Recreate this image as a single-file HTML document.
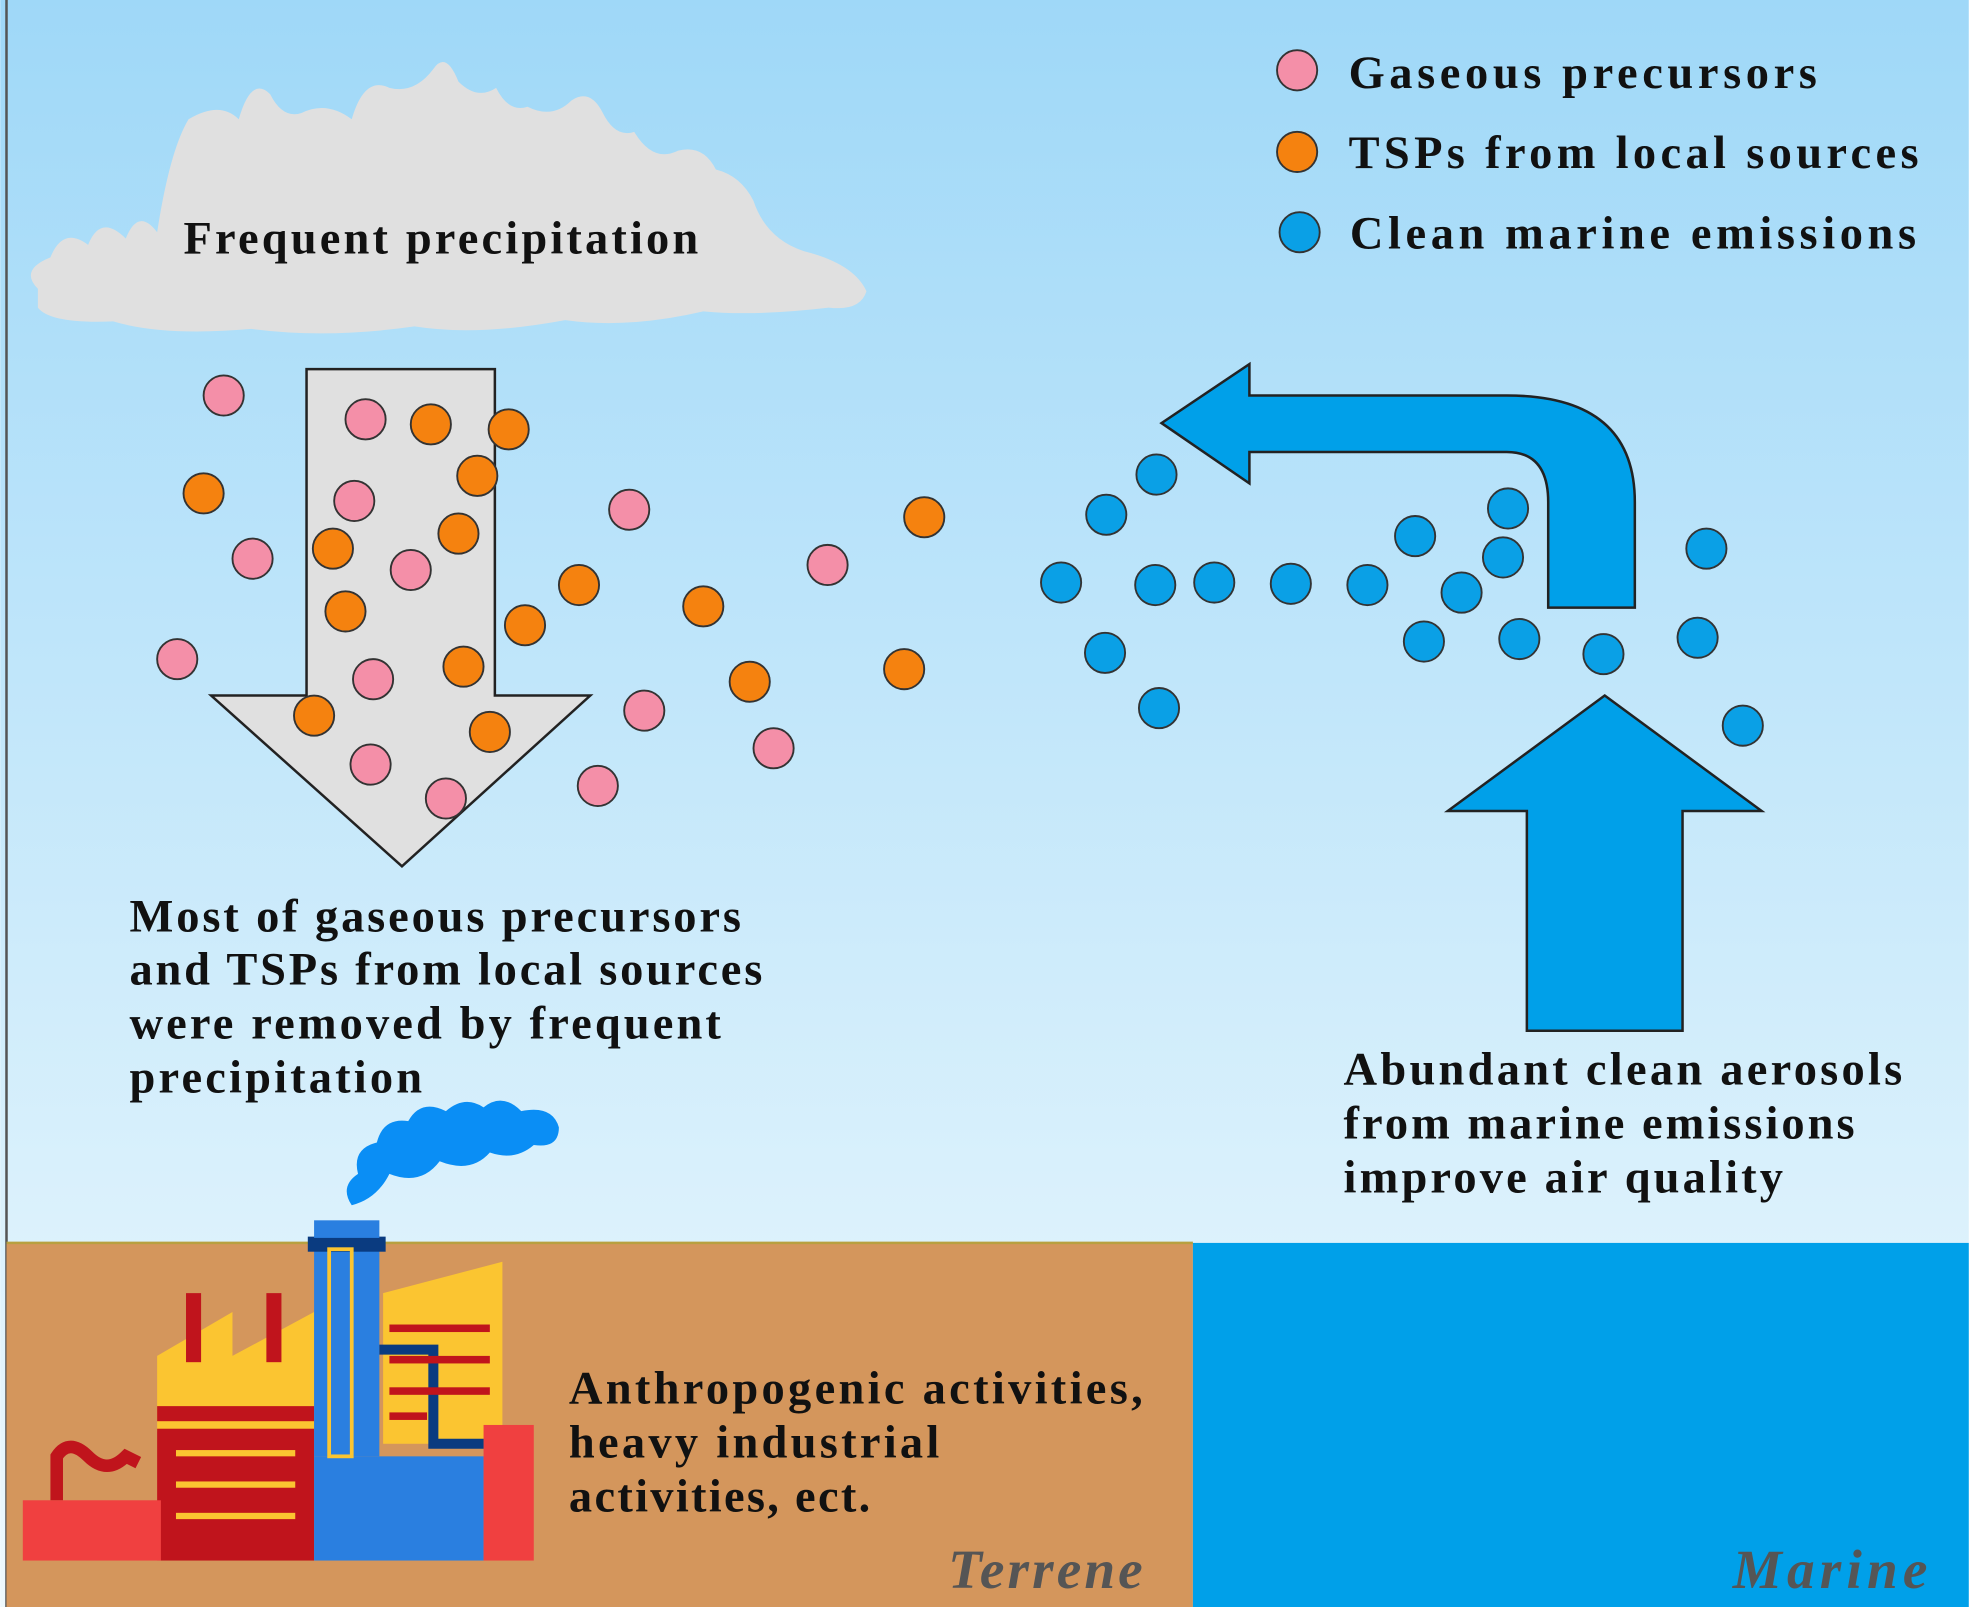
<!DOCTYPE html>
<html><head><meta charset="utf-8"><style>
html,body{margin:0;padding:0;width:1969px;height:1607px;overflow:hidden;background:#fff}
svg{display:block}
text{font-family:"Liberation Serif",serif;font-weight:bold;fill:#111}
</style></head><body>
<svg width="1969" height="1607" viewBox="0 0 1568 1280" xmlns="http://www.w3.org/2000/svg">
<defs><linearGradient id="sky" x1="0" y1="0" x2="0" y2="1">
<stop offset="0" stop-color="#9fd8f8"/><stop offset="1" stop-color="#eef9fd"/></linearGradient></defs>
<rect x="0" y="0" width="1568" height="1280" fill="url(#sky)"/>
<rect x="4" y="0" width="2" height="1280" fill="#555"/>
<rect x="5" y="990" width="945" height="290" fill="#d4965c"/>
<rect x="950" y="990" width="618" height="290" fill="#00a0e9"/>
<line x1="5" y1="990" x2="950" y2="990" stroke="#b8a040" stroke-width="2"/>
<path d="M30,230 Q15,215 40,205 Q50,180 70,195 Q80,170 100,190 Q110,165 125,185 Q135,120 150,95 Q175,80 190,95 Q200,60 215,75 Q225,95 240,90 Q260,80 280,95 Q290,60 310,70 Q330,75 345,55 Q355,40 365,65 Q380,80 395,70 Q405,90 420,85 Q440,95 455,80 Q470,70 480,90 Q490,110 505,105 Q520,130 540,120 Q560,115 570,135 Q590,140 600,160 Q610,190 640,200 Q680,210 690,232 Q685,248 660,245 Q600,252 560,248 Q500,262 450,255 Q380,268 330,260 Q260,270 200,262 Q130,268 90,256 Q40,258 30,245 Z" fill="#e0e0e0"/>
<text x="146" y="202" font-size="37" textLength="410" lengthAdjust="spacing">Frequent precipitation</text>
<path d="M244,294 L394,294 L394,554 L470,554 L320,690 L168,554 L244,554 Z" fill="#e0e0e0" stroke="#222" stroke-width="2"/>
<path d="M1278,554 L1403,646 L1340,646 L1340,821 L1216,821 L1216,646 L1153,646 Z" fill="#00a0e9" stroke="#222" stroke-width="2"/>
<path d="M995,315 L1200,315 Q1302,315 1302,400 L1302,484 L1233,484 L1233,400 Q1233,360 1200,360 L995,360 L995,385 L925,337 L995,290 Z" fill="#00a0e9" stroke="#222" stroke-width="2"/>
<g stroke="#333" stroke-width="1.5">
<g fill="#f48fa8">
<circle cx="178" cy="315" r="16"/><circle cx="291" cy="334" r="16"/><circle cx="282" cy="399" r="16"/><circle cx="201" cy="445" r="16"/><circle cx="327" cy="454" r="16"/><circle cx="141" cy="525" r="16"/><circle cx="297" cy="541" r="16"/><circle cx="295" cy="609" r="16"/><circle cx="355" cy="636" r="16"/><circle cx="476" cy="626" r="16"/><circle cx="513" cy="566" r="16"/><circle cx="616" cy="596" r="16"/><circle cx="659" cy="450" r="16"/><circle cx="501" cy="406" r="16"/>
<circle cx="1033" cy="56" r="16"/>
</g>
<g fill="#f5820f">
<circle cx="343" cy="338" r="16"/><circle cx="405" cy="342" r="16"/><circle cx="380" cy="379" r="16"/><circle cx="162" cy="393" r="16"/><circle cx="365" cy="425" r="16"/><circle cx="265" cy="437" r="16"/><circle cx="275" cy="487" r="16"/><circle cx="461" cy="466" r="16"/><circle cx="418" cy="498" r="16"/><circle cx="560" cy="483" r="16"/><circle cx="369" cy="531" r="16"/><circle cx="250" cy="570" r="16"/><circle cx="390" cy="583" r="16"/><circle cx="597" cy="543" r="16"/><circle cx="720" cy="533" r="16"/><circle cx="736" cy="412" r="16"/>
<circle cx="1033" cy="121" r="16"/>
</g>
<g fill="#0aa0e6">
<circle cx="921" cy="378" r="16"/><circle cx="881" cy="410" r="16"/><circle cx="845" cy="464" r="16"/><circle cx="920" cy="466" r="16"/><circle cx="967" cy="464" r="16"/><circle cx="1028" cy="465" r="16"/><circle cx="1089" cy="466" r="16"/><circle cx="1127" cy="427" r="16"/><circle cx="1201" cy="405" r="16"/><circle cx="1197" cy="444" r="16"/><circle cx="1164" cy="472" r="16"/><circle cx="1134" cy="511" r="16"/><circle cx="1210" cy="509" r="16"/><circle cx="1277" cy="521" r="16"/><circle cx="1352" cy="508" r="16"/><circle cx="1359" cy="437" r="16"/><circle cx="1388" cy="578" r="16"/><circle cx="880" cy="520" r="16"/><circle cx="923" cy="564" r="16"/>
<circle cx="1035" cy="185" r="16"/>
</g></g>
<text x="1074" y="70" font-size="37" textLength="373" lengthAdjust="spacing">Gaseous precursors</text>
<text x="1074" y="134" font-size="37" textLength="454" lengthAdjust="spacing">TSPs from local sources</text>
<text x="1075" y="198" font-size="37" textLength="451" lengthAdjust="spacing">Clean marine emissions</text>
<text x="103" y="742" font-size="37" textLength="487" lengthAdjust="spacing">Most of gaseous precursors</text>
<text x="103" y="784" font-size="37" textLength="504" lengthAdjust="spacing">and TSPs from local sources</text>
<text x="103" y="827" font-size="37" textLength="471" lengthAdjust="spacing">were removed by frequent</text>
<text x="103" y="870" font-size="37" textLength="233" lengthAdjust="spacing">precipitation</text>
<text x="1070" y="864" font-size="37" textLength="445" lengthAdjust="spacing">Abundant clean aerosols</text>
<text x="1070" y="907" font-size="37" textLength="407" lengthAdjust="spacing">from marine emissions</text>
<text x="1070" y="950" font-size="37" textLength="350" lengthAdjust="spacing">improve air quality</text>
<text x="453" y="1118" font-size="37" textLength="457" lengthAdjust="spacing">Anthropogenic activities,</text>
<text x="453" y="1161" font-size="37" textLength="295" lengthAdjust="spacing">heavy industrial</text>
<text x="453" y="1204" font-size="37" textLength="240" lengthAdjust="spacing">activities, ect.</text>
<text x="755" y="1265" font-size="44" font-style="italic" style="fill:#555" textLength="155" lengthAdjust="spacing">Terrene</text>
<text x="1380" y="1265" font-size="44" font-style="italic" style="fill:#555" textLength="155" lengthAdjust="spacing">Marine</text>
<path d="M280,960 Q270,945 285,935 Q280,915 300,910 Q305,890 325,893 Q335,875 355,885 Q370,872 385,882 Q400,870 415,885 Q440,880 445,898 Q445,915 425,912 Q410,925 390,918 Q375,935 350,925 Q335,945 310,935 Q300,955 280,960 Z" fill="#0a8ef5"/>
<path d="M305,1030 L400,1005 L400,1150 L305,1150Z" fill="#fbc531"/>
<path d="M125,1140 L125,1080 L185,1045 L185,1080 L250,1045 L250,1080 L250,1140Z" fill="#fbc531"/>
<rect x="148" y="1030" width="12" height="55" fill="#c0141c"/><rect x="212" y="1030" width="12" height="55" fill="#c0141c"/>
<rect x="125" y="1120" width="125" height="12" fill="#c0141c"/>
<rect x="125" y="1138" width="125" height="105" fill="#c0141c"/>
<rect x="18" y="1195" width="110" height="48" fill="#f04040"/>
<path d="M45,1195 L45,1160 Q55,1145 70,1160 Q85,1175 100,1160 L110,1165" stroke="#c0141c" stroke-width="10" fill="none"/>
<rect x="250" y="1160" width="135" height="83" fill="#2a7fe0"/>
<rect x="385" y="1135" width="40" height="108" fill="#f04040"/>
<rect x="250" y="985" width="52" height="175" fill="#2a7fe0"/>
<rect x="245" y="985" width="62" height="12" fill="#0a3b80"/>
<rect x="250" y="972" width="52" height="14" fill="#2a7fe0"/>
<rect x="262" y="995" width="18" height="165" fill="none" stroke="#fbc531" stroke-width="3"/>
<path d="M302,1075 L345,1075 L345,1150 L385,1150" stroke="#0a3b80" stroke-width="8" fill="none"/>
<g fill="#c0141c"><rect x="310" y="1055" width="80" height="6"/><rect x="310" y="1080" width="80" height="6"/><rect x="310" y="1105" width="80" height="6"/><rect x="310" y="1125" width="30" height="6"/></g>
<g fill="#fbc531"><rect x="140" y="1155" width="95" height="5"/><rect x="140" y="1180" width="95" height="5"/><rect x="140" y="1205" width="95" height="5"/></g>
</svg>
</body></html>
